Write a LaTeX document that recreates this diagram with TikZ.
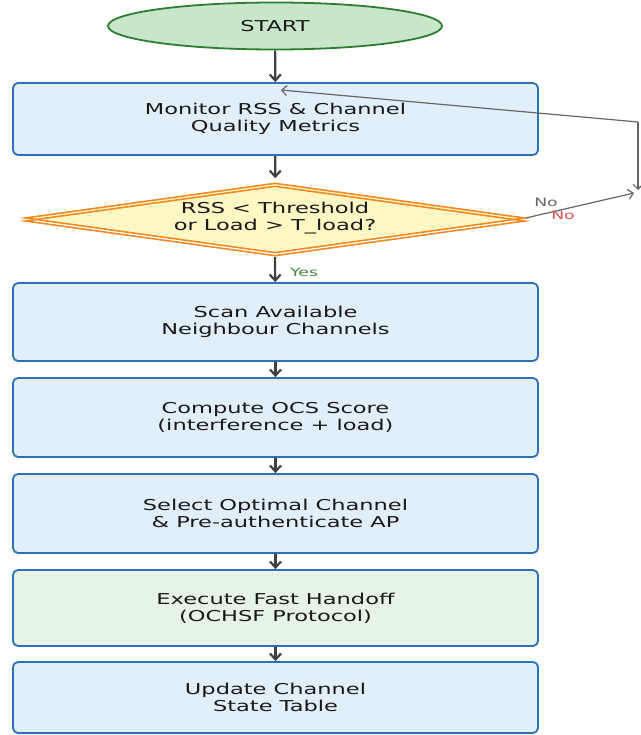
\documentclass[tikz,border=0pt]{standalone}
\usepackage{fontspec}
\setmainfont{DejaVu Sans}[FakeStretch=1.5]
\usetikzlibrary{shapes.geometric,arrows.meta}

\definecolor{boxfill}{HTML}{E1EFFB}
\definecolor{boxline}{HTML}{3070B8}
\definecolor{startfill}{HTML}{C8E6C9}
\definecolor{startline}{HTML}{2E7D32}
\definecolor{decfill}{HTML}{FFF8C4}
\definecolor{decline}{HTML}{F08A24}
\definecolor{execfill}{HTML}{E6F4E6}
\definecolor{flowline}{HTML}{404040}
\definecolor{loopline}{HTML}{666666}
\definecolor{yesgreen}{HTML}{3D8B3D}
\definecolor{nored}{HTML}{D9534F}

\begin{document}
\begin{tikzpicture}[x=1pt,y=-1pt,font=\fontsize{15}{17}\selectfont]
  \tikzstyle{stepbox}=[rectangle, rounded corners=5pt, draw=boxline, line width=1.8pt, fill=boxfill, minimum width=525pt, minimum height=78pt, align=center, text=black!90]
  \tikzstyle{startnode}=[ellipse, draw=startline, line width=1.8pt, fill=startfill, minimum width=334pt, minimum height=47pt, text=black!90]
  \tikzstyle{decnode}=[diamond, aspect=6.8, draw=decline, line width=1.6pt, minimum width=500pt, minimum height=70pt, inner sep=0pt, align=center, text=black!90]
  \tikzstyle{flow}=[draw=flowline, line width=2.2pt, -{Straight Barb[length=6pt,width=11pt]}]
  \tikzstyle{loop}=[draw=loopline, line width=1.2pt, -{Straight Barb[length=5pt,width=10pt]}]
  \tikzstyle{edgelabel}=[font=\fontsize{11.5}{13}\selectfont, inner sep=0pt]
  \useasboundingbox (0,0) rectangle (640,735);

  \node[startnode] (start) at (275,26) {START};
  \node[stepbox, minimum height=72pt] (mon) at (275.5,119) {Monitor RSS \& Channel\\Quality Metrics};
  \node[decnode, fill=decfill] (dec) at (275,218) {RSS < Threshold\\or Load > T\_load?};
  \node[decnode] (decb) at (275,221) {};
  \node[stepbox] (scan) at (275.5,322) {Scan Available\\Neighbour Channels};
  \node[stepbox, minimum height=79pt] (ocs) at (275.5,417.5) {Compute OCS Score\\(interference + load)};
  \node[stepbox, minimum height=79pt] (sel) at (275.5,513.5) {Select Optimal Channel\\\& Pre-authenticate AP};
  \node[stepbox, fill=execfill, minimum height=76pt] (exec) at (275.5,608) {Execute Fast Handoff\\(OCHSF Protocol)};
  \node[stepbox, minimum height=71pt] (upd) at (275.5,697.5) {Update Channel\\State Table};

  \path[flow] (start) -- (mon);
  \path[flow, shorten >=4pt] (mon) -- (dec);
  \path[flow] (decb.south) -- (scan);
  \path[flow] (scan) -- (ocs);
  \path[flow] (ocs) -- (sel);
  \path[flow] (sel) -- (exec);
  \path[flow] (exec) -- (upd);
  \node[edgelabel, text=yesgreen, anchor=west] (yes) at (290,272) {Yes};

  % back to monitoring
  \coordinate (noend) at (634,193);
  \coordinate (looptop) at (638,122);
  \coordinate (loopbot) at (638,190);
  \coordinate (monin) at (281,90);
  \path[loop] (dec.east) -- (noend);
  \path[loop] (looptop) -- (loopbot);
  \path[loop] (looptop) -- (monin);
  \node[edgelabel, text=loopline] (nogray) at (546,202) {No};
  \node[edgelabel, text=nored] (nored) at (563,215) {No};
\end{tikzpicture}
\end{document}
